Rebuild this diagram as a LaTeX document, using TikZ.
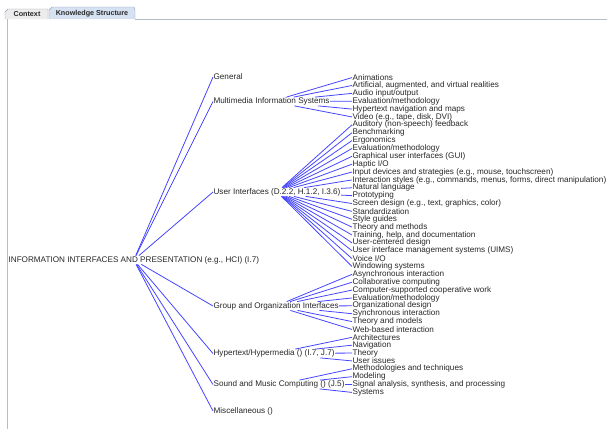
\documentclass[tikz,border=0pt]{standalone}
\usepackage{fontspec}
\setmainfont{Liberation Sans}
\definecolor{edgeblue}{RGB}{70,70,255}
\definecolor{tabgray}{RGB}{236,236,236}
\definecolor{tabblue}{RGB}{214,226,242}
\definecolor{tabline}{RGB}{150,160,180}
\definecolor{txt}{RGB}{40,40,40}
\tikzset{
  lbl/.style={anchor=west, inner sep=0.4pt, text=txt, font=\fontsize{8.15}{9}\selectfont},
  edge/.style={draw=edgeblue, line width=0.8pt},
  tabtxt/.style={inner sep=0pt, font=\bfseries\fontsize{7.2}{8}\selectfont, text=txt}
}
\begin{document}
\begin{tikzpicture}[x=1pt,y=-1pt]
\useasboundingbox (0,0) rectangle (607,429);
\fill[white] (0,0) rectangle (607,429);
% tabs and panel
\draw[tabline, fill=tabgray] (5,19) -- (5,12) -- (8,9) -- (48,9) -- (48,19);
\draw[tabline, fill=tabblue] (49,19) -- (49,10) -- (52,7) -- (134,7) -- (135,10) -- (135,19);
\node[tabtxt] (tctx) at (27,14) {Context};
\node[tabtxt] (tks) at (92,13.5) {Knowledge Structure};
\draw[tabline!70] (135,19) -- (607,19);
\draw[tabline!70] (7,19) -- (7,429);
% root
\node[lbl] (root) at (8,260) {INFORMATION INTERFACES AND PRESENTATION (e.g., HCI) (I.7)};
% level 1
\node[lbl] (gen) at (213,77) {General};
\node[lbl] (mm) at (213,101.5) {Multimedia Information Systems};
\node[lbl] (ui) at (213,192) {User Interfaces (D.2.2, H.1.2, I.3.6)};
\node[lbl] (grp) at (213,306) {Group and Organization Interfaces};
\node[lbl] (hyp) at (213,353.5) {Hypertext/Hypermedia () (I.7, J.7)};
\node[lbl] (snd) at (213,384.5) {Sound and Music Computing () (J.5)};
\node[lbl] (misc) at (213,411) {Miscellaneous ()};
\foreach \n in {gen,mm,ui,grp,hyp,snd,misc} \draw[edge] (root) -- (\n.west);
% level 2
\def\yy#1{{77.6+7.87*#1}}
\node[lbl] (c0) at (352,\yy{0}) {Animations};
\node[lbl] (c1) at (352,\yy{1}) {Artificial, augmented, and virtual realities};
\node[lbl] (c2) at (352,\yy{2}) {Audio input/output};
\node[lbl] (c3) at (352,\yy{3}) {Evaluation/methodology};
\node[lbl] (c4) at (352,\yy{4}) {Hypertext navigation and maps};
\node[lbl] (c5) at (352,\yy{5}) {Video (e.g., tape, disk, DVI)};
\node[lbl] (c6) at (352,\yy{6}) {Auditory (non-speech) feedback};
\node[lbl] (c7) at (352,\yy{7}) {Benchmarking};
\node[lbl] (c8) at (352,\yy{8}) {Ergonomics};
\node[lbl] (c9) at (352,\yy{9}) {Evaluation/methodology};
\node[lbl] (c10) at (352,\yy{10}) {Graphical user interfaces (GUI)};
\node[lbl] (c11) at (352,\yy{11}) {Haptic I/O};
\node[lbl] (c12) at (352,\yy{12}) {Input devices and strategies (e.g., mouse, touchscreen)};
\node[lbl] (c13) at (352,\yy{13}) {Interaction styles (e.g., commands, menus, forms, direct manipulation)};
\node[lbl] (c14) at (352,\yy{14}) {Natural language};
\node[lbl] (c15) at (352,\yy{15}) {Prototyping};
\node[lbl] (c16) at (352,\yy{16}) {Screen design (e.g., text, graphics, color)};
\node[lbl] (c17) at (352,\yy{17}) {Standardization};
\node[lbl] (c18) at (352,\yy{18}) {Style guides};
\node[lbl] (c19) at (352,\yy{19}) {Theory and methods};
\node[lbl] (c20) at (352,\yy{20}) {Training, help, and documentation};
\node[lbl] (c21) at (352,\yy{21}) {User-centered design};
\node[lbl] (c22) at (352,\yy{22}) {User interface management systems (UIMS)};
\node[lbl] (c23) at (352,\yy{23}) {Voice I/O};
\node[lbl] (c24) at (352,\yy{24}) {Windowing systems};
\node[lbl] (c25) at (352,\yy{25}) {Asynchronous interaction};
\node[lbl] (c26) at (352,\yy{26}) {Collaborative computing};
\node[lbl] (c27) at (352,\yy{27}) {Computer-supported cooperative work};
\node[lbl] (c28) at (352,\yy{28}) {Evaluation/methodology};
\node[lbl] (c29) at (352,\yy{29}) {Organizational design};
\node[lbl] (c30) at (352,\yy{30}) {Synchronous interaction};
\node[lbl] (c31) at (352,\yy{31}) {Theory and models};
\node[lbl] (c32) at (352,\yy{32}) {Web-based interaction};
\node[lbl] (c33) at (352,\yy{33}) {Architectures};
\node[lbl] (c34) at (352,\yy{34}) {Navigation};
\node[lbl] (c35) at (352,\yy{35}) {Theory};
\node[lbl] (c36) at (352,\yy{36}) {User issues};
\node[lbl] (c37) at (352,\yy{37}) {Methodologies and techniques};
\node[lbl] (c38) at (352,\yy{38}) {Modeling};
\node[lbl] (c39) at (352,\yy{39}) {Signal analysis, synthesis, and processing};
\node[lbl] (c40) at (352,\yy{40}) {Systems};
\foreach \c in {0,...,5} \draw[edge] (mm) -- (c\c.west);
\foreach \c in {6,...,24} \draw[edge] (ui) -- (c\c.west);
\foreach \c in {25,...,32} \draw[edge] (grp) -- (c\c.west);
\foreach \c in {33,...,36} \draw[edge] (hyp) -- (c\c.west);
\foreach \c in {37,...,40} \draw[edge] (snd) -- (c\c.west);
\end{tikzpicture}
\end{document}
